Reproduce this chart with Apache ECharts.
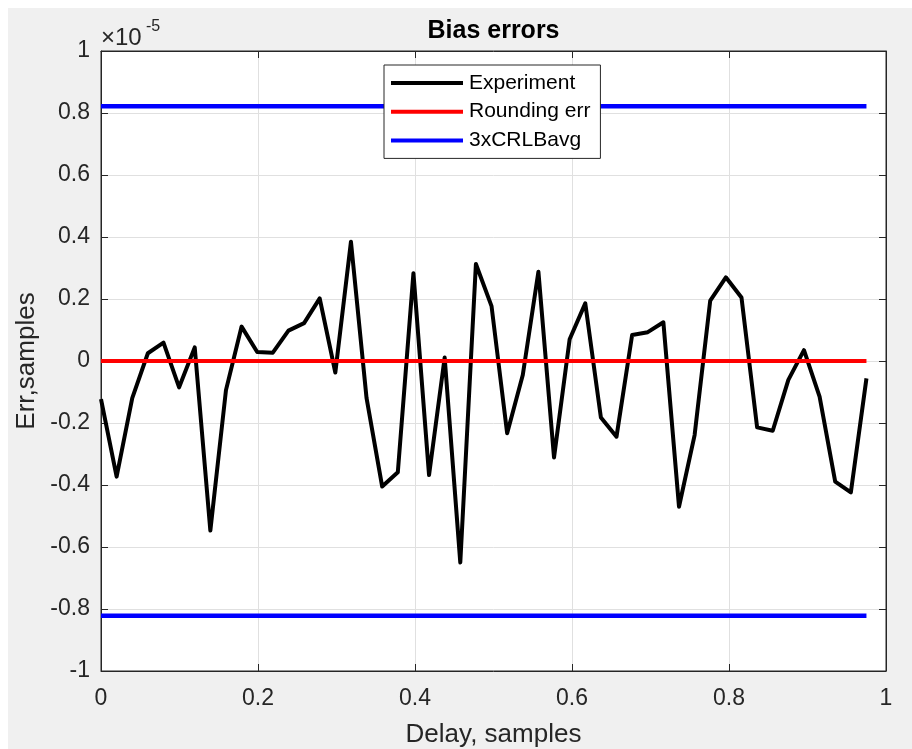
<!DOCTYPE html>
<html>
<head>
<meta charset="utf-8">
<script src="https://cdn.jsdelivr.net/npm/echarts@6/dist/echarts.min.js"></script>
<style>
html,body{margin:0;padding:0;background:#fff;}
#chart{width:912px;height:749px;}
</style>
</head>
<body>
<div id="chart"></div>
<script>
// Delay values (samples)
const delays = [0, 0.0199, 0.0398, 0.0597, 0.0796, 0.0995, 0.1194, 0.1393, 0.1592, 0.1791,
  0.199, 0.2189, 0.2388, 0.2587, 0.2786, 0.2985, 0.3184, 0.3383, 0.3582, 0.3781,
  0.398, 0.4179, 0.4378, 0.4577, 0.4776, 0.4975, 0.5174, 0.5373, 0.5572, 0.5771,
  0.597, 0.6169, 0.6368, 0.6567, 0.6766, 0.6965, 0.7164, 0.7363, 0.7562, 0.7761,
  0.796, 0.8159, 0.8358, 0.8557, 0.8756, 0.8955, 0.9154, 0.9353, 0.9552, 0.9751];
// Experiment bias errors (units of 1e-5 samples)
const experiment = [-0.123, -0.373, -0.12, 0.025, 0.059, -0.085, 0.044, -0.547, -0.094, 0.111,
  0.029, 0.027, 0.098, 0.122, 0.202, -0.037, 0.385, -0.12, -0.405, -0.359,
  0.283, -0.368, 0.011, -0.65, 0.313, 0.177, -0.233, -0.045, 0.288, -0.311,
  0.07, 0.186, -0.182, -0.244, 0.084, 0.093, 0.125, -0.47, -0.239, 0.195,
  0.27, 0.205, -0.214, -0.225, -0.061, 0.035, -0.115, -0.389, -0.424, -0.056];
const roundingErr = 0;
const crlbAvg3 = 0.822;
const xTicks = [0, 0.2, 0.4, 0.6, 0.8, 1];
const yTicks = [-1, -0.8, -0.6, -0.4, -0.2, 0, 0.2, 0.4, 0.6, 0.8, 1];
const seriesNames = ['Experiment', 'Rounding err', '3xCRLBavg'];

const FONT = 'Liberation Sans, Arial, Helvetica, sans-serif';
const TXT = '#262626';
const xFirst = delays[0], xLast = delays[delays.length - 1];

const chart = echarts.init(document.getElementById('chart'), null, {renderer: 'canvas'});
const tickStyle = {show: true, inside: true, length: 7, lineStyle: {color: TXT, width: 1}};
const lineAxis = {show: true, onZero: false, lineStyle: {color: TXT, width: 1}};
const option = {
  animation: false,
  backgroundColor: '#f0f0f0',
  grid: {left: 101, right: 26, top: 51, bottom: 78, show: true, backgroundColor: '#ffffff',
         borderColor: TXT, borderWidth: 1, containLabel: false, outerBoundsMode: 'none'},
  graphic: [
    {type: 'rect', left: 0, top: 0, z: -10, shape: {width: 912, height: 8}, style: {fill: '#ffffff'}},
    {type: 'rect', left: 0, top: 0, z: -10, shape: {width: 8, height: 749}, style: {fill: '#ffffff'}},
    {type: 'text', x: 493.5, y: 31, style: {text: 'Bias errors', font: 'bold 25px ' + FONT, fill: '#000',
      textAlign: 'center', textVerticalAlign: 'middle'}},
    {type: 'text', x: 101, y: 38, style: {text: '\u00d710', font: '24px ' + FONT, fill: TXT,
      textAlign: 'left', textVerticalAlign: 'middle'}},
    {type: 'text', x: 146, y: 27, style: {text: '-5', font: '16px ' + FONT, fill: TXT,
      textAlign: 'left', textVerticalAlign: 'middle'}}
  ],
  legend: {
    orient: 'vertical', left: 384, top: 65,
    data: seriesNames,
    icon: 'rect', itemWidth: 72, itemHeight: 4, itemGap: 4.7,
    padding: [6, 10, 6, 7],
    backgroundColor: '#ffffff', borderColor: TXT, borderWidth: 1,
    textStyle: {fontFamily: FONT, fontSize: 21, lineHeight: 24, color: '#000', padding: [0, 0, 0, 1]},
    z: 10
  },
  xAxis: [
    {type: 'value', min: xTicks[0], max: xTicks[xTicks.length - 1], interval: 0.2, position: 'bottom',
     name: 'Delay, samples', nameLocation: 'middle', nameGap: 51,
     nameTextStyle: {fontFamily: FONT, fontSize: 26, color: TXT},
     axisLine: lineAxis,
     axisTick: tickStyle,
     axisLabel: {fontFamily: FONT, fontSize: 23, color: TXT, margin: 16},
     splitLine: {show: true, lineStyle: {color: '#e0e0e0', width: 1}}},
    {type: 'value', min: xTicks[0], max: xTicks[xTicks.length - 1], interval: 0.2, position: 'top',
     axisLine: lineAxis,
     axisTick: tickStyle, axisLabel: {show: false}, splitLine: {show: false}}
  ],
  yAxis: [
    {type: 'value', min: yTicks[0], max: yTicks[yTicks.length - 1], interval: 0.2, position: 'left',
     name: 'Err,samples', nameLocation: 'middle', nameGap: 61, nameRotate: 90,
     nameTextStyle: {fontFamily: FONT, fontSize: 26, color: TXT},
     axisLine: lineAxis,
     axisTick: tickStyle,
     axisLabel: {fontFamily: FONT, fontSize: 23, color: TXT, margin: 11,
       formatter: v => String(Math.round(v * 10) / 10)},
     splitLine: {show: true, lineStyle: {color: '#e0e0e0', width: 1}}},
    {type: 'value', min: yTicks[0], max: yTicks[yTicks.length - 1], interval: 0.2, position: 'right',
     axisLine: lineAxis,
     axisTick: tickStyle, axisLabel: {show: false}, splitLine: {show: false}}
  ],
  series: [
    {name: seriesNames[0], type: 'line', xAxisIndex: 0, yAxisIndex: 0, showSymbol: false, symbol: 'none',
     data: delays.map((d, i) => [d, experiment[i]]),
     lineStyle: {color: '#000000', width: 4, join: 'round'}, itemStyle: {color: '#000000'}},
    {name: seriesNames[1], type: 'line', showSymbol: false, symbol: 'none',
     data: [[xFirst, roundingErr], [xLast, roundingErr]],
     lineStyle: {color: '#ff0000', width: 4}, itemStyle: {color: '#ff0000'}},
    {name: seriesNames[2], type: 'line', showSymbol: false, symbol: 'none',
     data: [[xFirst, crlbAvg3], [xLast, crlbAvg3]],
     lineStyle: {color: '#0000ff', width: 4.5}, itemStyle: {color: '#0000ff'}},
    {name: seriesNames[2], type: 'line', showSymbol: false, symbol: 'none',
     data: [[xFirst, -crlbAvg3], [xLast, -crlbAvg3]],
     lineStyle: {color: '#0000ff', width: 4.5}, itemStyle: {color: '#0000ff'}}
  ]
};
chart.setOption(option);
</script>
</body>
</html>
